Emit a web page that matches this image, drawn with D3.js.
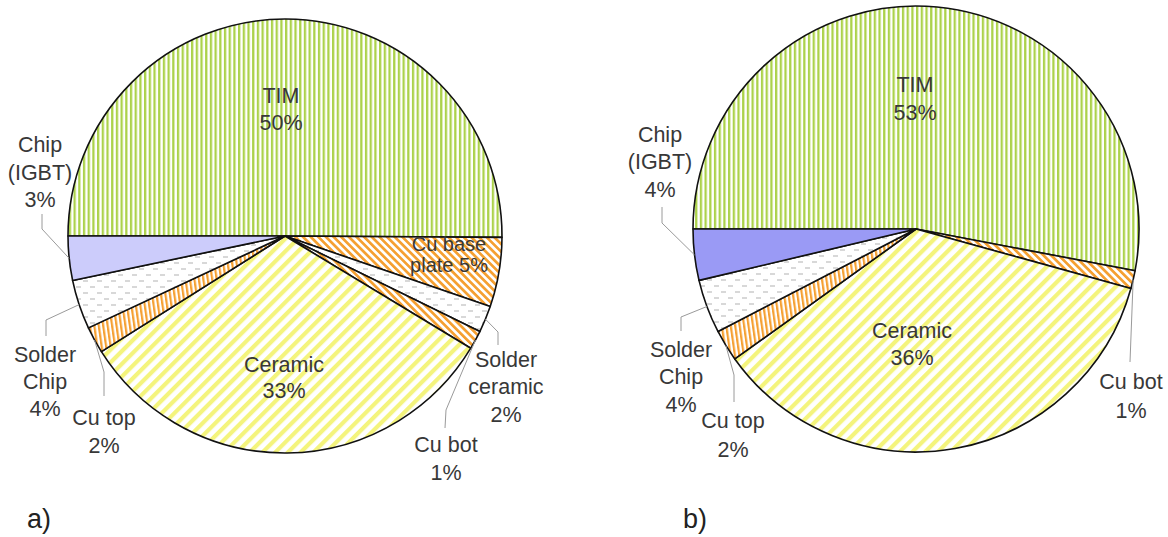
<!DOCTYPE html>
<html><head><meta charset="utf-8">
<script src="https://cdn.jsdelivr.net/npm/d3@7/dist/d3.min.js"></script>
<style>html,body{margin:0;padding:0;background:#fff;}svg{display:block;}</style>
</head><body>
<script>
// ---------- DATA ----------
const categories = ["TIM", "Cu base plate", "Solder ceramic", "Cu bot", "Ceramic", "Cu top", "Solder Chip", "Chip (IGBT)"];
const valuesA = [50.4, 5.2, 2.0, 1.4, 32.6, 2.0, 3.7, 3.3];
const valuesB = [53.0, 0, 0, 1.3, 35.8, 2.3, 3.9, 3.7];
const pctLabelsA = ["50%", "5%", "2%", "1%", "33%", "2%", "4%", "3%"];
const pctLabelsB = ["53%", "", "", "1%", "36%", "2%", "4%", "4%"];
const panelTitles = ["a)", "b)"];

// ---------- LAYOUT / STYLE ----------
const W = 1168, H = 537;
const FONT = "'Liberation Sans', Arial, sans-serif";
const fills = {
  "TIM": "url(#pTIM)", "Cu base plate": "url(#pCu)", "Solder ceramic": "url(#pSolder)",
  "Cu bot": "url(#pCu)", "Ceramic": "url(#pCer)", "Cu top": "url(#pCuTop)",
  "Solder Chip": "url(#pSolder)"
};
const chipFill = ["#ccccfb", "#9a9af5"];
const panels = [
  { cx: 285, cy: 236, r: 217, values: valuesA, pct: pctLabelsA, title: {x: 39, y: 528},
    labels: {
      "TIM": {x: 281, lines: ["TIM", "{p}"], ys: [103, 130]},
      "Cu base plate": {x: 449, lines: ["Cu base", "plate {p}"], ys: [251, 272], size: 20},
      "Solder ceramic": {x: 506, lines: ["Solder", "ceramic", "{p}"], ys: [367, 394, 422], lead: [[498, 332], [498, 345]]},
      "Cu bot": {x: 446, lines: ["Cu bot", "{p}"], ys: [452, 480], lead: [[446, 410], [445, 428]]},
      "Ceramic": {x: 284, lines: ["Ceramic", "{p}"], ys: [372, 398]},
      "Cu top": {x: 104, lines: ["Cu top", "{p}"], ys: [425, 453], lead: [[104, 372], [104, 396]]},
      "Solder Chip": {x: 45, lines: ["Solder", "Chip", "{p}"], ys: [362, 389, 416], lead: [[46, 320], [46, 336]]},
      "Chip (IGBT)": {x: 40, lines: ["Chip", "(IGBT)", "{p}"], ys: [152, 180, 207], lead: [[42, 229], [42, 214]]}
    }},
  { cx: 916, cy: 229, r: 223, values: valuesB, pct: pctLabelsB, title: {x: 695, y: 528},
    labels: {
      "TIM": {x: 915, lines: ["TIM", "{p}"], ys: [92, 120]},
      "Cu bot": {x: 1131, lines: ["Cu bot", "{p}"], ys: [389, 418], lead: [[1130, 362]]},
      "Ceramic": {x: 912, lines: ["Ceramic", "{p}"], ys: [338, 365]},
      "Cu top": {x: 733, lines: ["Cu top", "{p}"], ys: [428, 457], lead: [[734, 375], [734, 402]]},
      "Solder Chip": {x: 681, lines: ["Solder", "Chip", "{p}"], ys: [357, 384, 412], lead: [[681, 317], [681, 331]]},
      "Chip (IGBT)": {x: 660, lines: ["Chip", "(IGBT)", "{p}"], ys: [142, 169, 197], lead: [[662, 223], [662, 207]]}
    }}
];

// ---------- DRAW ----------
const svg = d3.select("body").append("svg").attr("width", W).attr("height", H);
const defs = svg.append("defs");

function stripePattern(id, period, stripeW, color, angle) {
  const p = defs.append("pattern").attr("id", id).attr("patternUnits", "userSpaceOnUse")
    .attr("width", period).attr("height", 10).attr("patternTransform", `rotate(${angle})`);
  p.append("rect").attr("width", period).attr("height", 10).attr("fill", "#fff");
  p.append("rect").attr("x", 0).attr("width", stripeW).attr("height", 10).attr("fill", color);
}
stripePattern("pTIM", 4.7, 2.3, "#acd24b", 0);
stripePattern("pCer", 9, 4.2, "#f4f47c", 45);
stripePattern("pCu", 5.4, 2.7, "#f5a032", -45);
stripePattern("pCuTop", 4.4, 2.2, "#f5a032", -8);
{
  const p = defs.append("pattern").attr("id", "pSolder").attr("patternUnits", "userSpaceOnUse")
    .attr("width", 14).attr("height", 12);
  p.append("rect").attr("width", 14).attr("height", 12).attr("fill", "#fff");
  p.append("line").attr("x1", 1).attr("x2", 6).attr("y1", 3).attr("y2", 3).attr("stroke", "#c4c4c4").attr("stroke-width", 1.3);
  p.append("line").attr("x1", 8).attr("x2", 13).attr("y1", 9).attr("y2", 9).attr("stroke", "#c4c4c4").attr("stroke-width", 1.3);
}

const pie = d3.pie().sort(null).value(d => d.value)
  .startAngle(-Math.PI / 2).endAngle(3 * Math.PI / 2);

panels.forEach((P, pi) => {
  const data = categories.map((c, i) => ({ cat: c, value: P.values[i], pct: P.pct[i] }));
  const arcs = pie(data).filter(d => d.data.value > 0);
  const arc = d3.arc().innerRadius(0).outerRadius(P.r);
  const edge = d3.arc().innerRadius(P.r).outerRadius(P.r);
  const g = svg.append("g").attr("transform", `translate(${P.cx},${P.cy})`);

  g.selectAll("path.slice").data(arcs).join("path").attr("class", "slice")
    .attr("d", arc)
    .attr("fill", d => d.data.cat === "Chip (IGBT)" ? chipFill[pi] : fills[d.data.cat])
    .attr("stroke", "#111").attr("stroke-width", 1.6).attr("stroke-linejoin", "round");

  // leader lines
  arcs.forEach(d => {
    const L = P.labels[d.data.cat];
    if (!L || !L.lead) return;
    const c = edge.centroid(d);
    const pts = [[P.cx + c[0], P.cy + c[1]], ...L.lead];
    svg.append("path").attr("d", d3.line()(pts)).attr("fill", "none")
      .attr("stroke", "#9a9a9a").attr("stroke-width", 1);
  });

  // labels
  arcs.forEach(d => {
    const L = P.labels[d.data.cat];
    if (!L) return;
    const t = svg.append("text").attr("font-family", FONT).attr("font-size", L.size || 21.5)
      .attr("fill", "#383838").attr("text-anchor", "middle");
    L.lines.forEach((ln, k) => {
      t.append("tspan").attr("x", L.x).attr("y", L.ys[k]).text(ln.replace("{p}", d.data.pct));
    });
  });

  svg.append("text").attr("x", P.title.x).attr("y", P.title.y).attr("font-family", FONT)
    .attr("font-size", 27).attr("fill", "#222").attr("text-anchor", "middle").text(panelTitles[pi]);
});
</script>
</body></html>
